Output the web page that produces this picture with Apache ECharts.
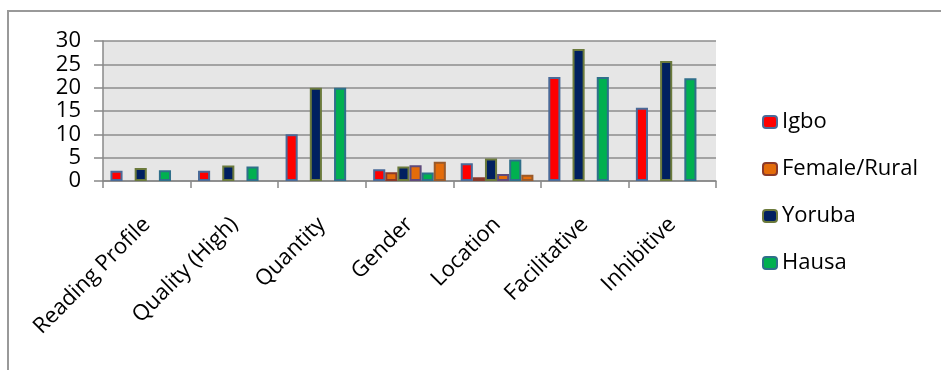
<!DOCTYPE html>
<html>
<head>
<meta charset="utf-8">
<style>
    html, body {margin: 0; padding: 0; background: #fff;}
    #main {width: 941px; height: 370px;}
</style>
<script src="https://cdn.jsdelivr.net/npm/echarts@6/dist/echarts.min.js"></script>
</head>
<body>
<div id="main"></div>
<script>
    // categories
    var categories = ['Reading Profile', 'Quality (High)', 'Quantity', 'Gender', 'Location', 'Facilitative', 'Inhibitive'];
    // values per group (slot order: Igbo, Female/Rural, Yoruba, Female/Rural, Hausa, Female/Rural)
    var igbo = [2.2, 2.2, 10, 2.5, 3.8, 22.3, 15.7];
    var femaleRural1 = [null, null, null, 1.9, 0.8, null, null];
    var yoruba = [2.8, 3.3, 20, 3.1, 4.8, 28.3, 25.7];
    var femaleRural2 = [null, null, null, 3.4, 1.5, null, null];
    var hausa = [2.3, 3.1, 20, 1.8, 4.6, 22.3, 22.0];
    var femaleRural3 = [null, null, null, 4.1, 1.35, null, null];
    var legendNames = ['Igbo', 'Female/Rural', 'Yoruba', 'Hausa'];
    var yTicks = [0, 5, 10, 15, 20, 25, 30];

    var fontFam = '"Open Sans", "DejaVu Sans", sans-serif';

    function barSeries(name, data, fill, border) {
        return {
            name: name,
            type: 'bar',
            data: data,
            barGap: '0%',
            barCategoryGap: '17%',
            itemStyle: {
                color: fill,
                borderColor: border,
                borderWidth: 2
            }
        };
    }

    function initChart(el, opts) {
        if (el) {
            var myChart = echarts.init(el);
            myChart.setOption(opts);
            return myChart;
        }
    }

    var opt = {
        animation: false,
        textStyle: {fontFamily: fontFam},
        // outer frame (top and left edges)
        graphic: [{
            type: 'polyline',
            shape: {points: [[8, 372], [8, 11], [943, 11]]},
            style: {stroke: '#999', lineWidth: 2, fill: null}
        }],
        grid: {
            left: 103,
            top: 41,
            right: 225,
            bottom: 189,
            show: true,
            backgroundColor: '#e6e6e6',
            borderWidth: 0
        },
        legend: {
            data: legendNames,
            orient: 'vertical',
            left: 757,
            top: 106,
            itemWidth: 14,
            itemHeight: 12,
            itemGap: 25,
            textStyle: {fontSize: 22, color: '#000', fontFamily: fontFam}
        },
        xAxis: {
            type: 'category',
            data: categories,
            axisLine: {lineStyle: {color: '#888', width: 1.5}},
            axisTick: {show: true, length: 7, lineStyle: {color: '#888', width: 1.5}},
            axisLabel: {
                interval: 0,
                rotate: 45,
                fontSize: 22,
                color: '#000',
                margin: 40
            }
        },
        yAxis: {
            type: 'value',
            min: yTicks[0],
            max: yTicks[yTicks.length - 1],
            interval: 5,
            axisLine: {show: true, lineStyle: {color: '#888', width: 1.5}},
            axisTick: {show: true, length: 9, lineStyle: {color: '#888', width: 1.5}},
            axisLabel: {fontSize: 22, color: '#000', margin: 22},
            splitLine: {lineStyle: {color: '#8c8c8c', width: 1.5}}
        },
        series: [
            barSeries('Igbo', igbo, '#ff0000', '#4a6a98'),
            barSeries('Female/Rural', femaleRural1, '#e46c0a', '#8b3a2a'),
            barSeries('Yoruba', yoruba, '#002060', '#6b7a3c'),
            barSeries('Female/Rural', femaleRural2, '#e46c0a', '#5f4a7b'),
            barSeries('Hausa', hausa, '#00b050', '#2f6f8a'),
            barSeries('Female/Rural', femaleRural3, '#e46c0a', '#9a5a2a')
        ]
    };

    initChart(document.getElementById('main'), opt);
</script>
</body>
</html>
